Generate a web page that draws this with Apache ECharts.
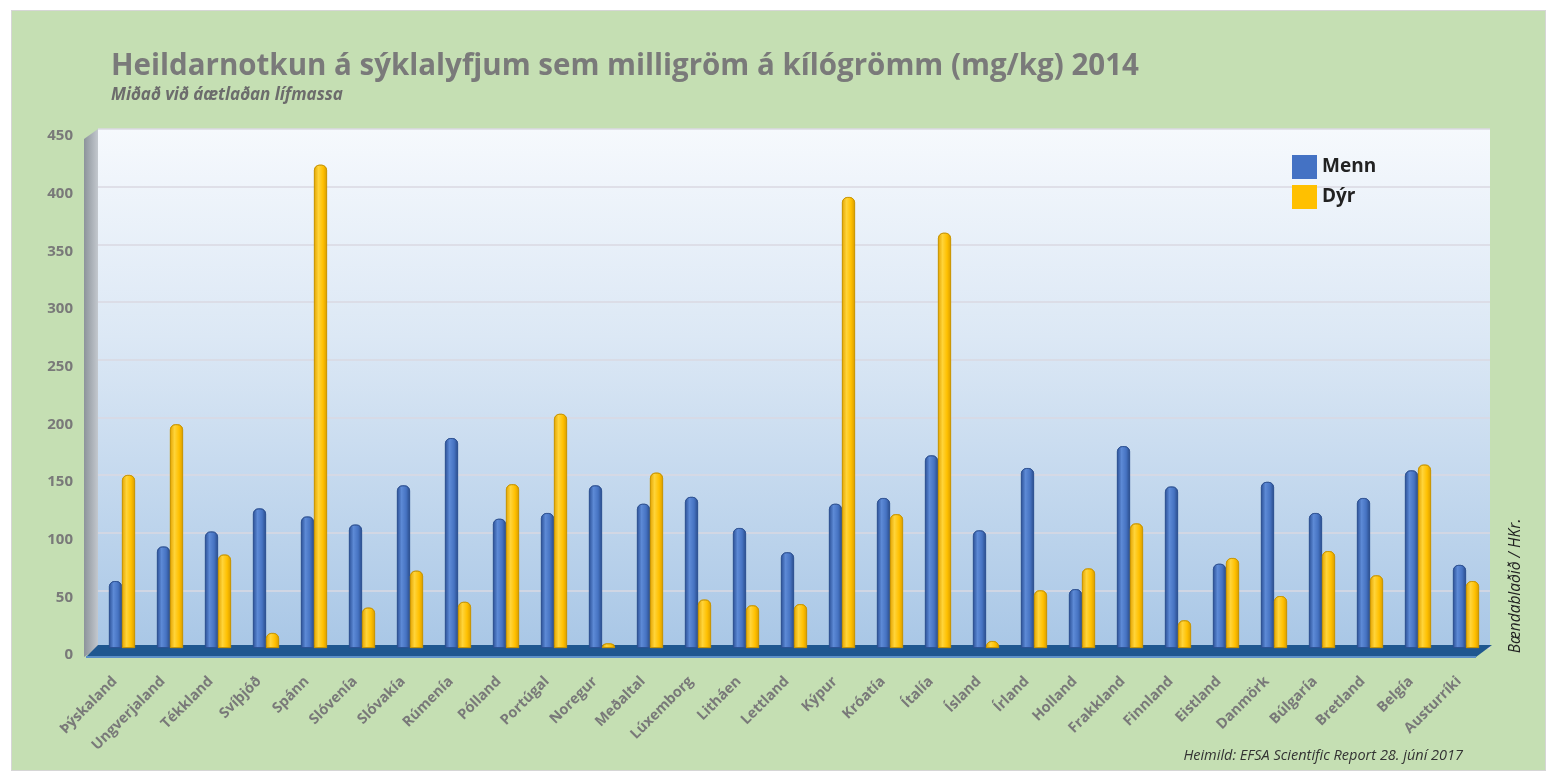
<!DOCTYPE html>
<html>
<head>
<meta charset="utf-8">
<script src="https://cdn.jsdelivr.net/npm/echarts@6/dist/echarts.min.js"></script>
<style>
  html, body { margin: 0; padding: 0; background: #fff; }
  #panel { position: absolute; left: 11px; top: 10px; width: 1533px; height: 759px; background: #c5dfb3; border: 1px solid #d6d6d6; }
  #chart { position: absolute; left: 0; top: 0; width: 1555px; height: 774px; }
</style>
</head>
<body>
<div id="panel"></div>
<div id="chart"></div>
<script>
const countries = ['Þýskaland', 'Ungverjaland', 'Tékkland', 'Svíþjóð', 'Spánn', 'Slóvenía', 'Slóvakía', 'Rúmenía',
  'Pólland', 'Portúgal', 'Noregur', 'Meðaltal', 'Lúxemborg', 'Litháen', 'Lettland', 'Kýpur', 'Króatía', 'Ítalía',
  'Ísland', 'Írland', 'Holland', 'Frakkland', 'Finnland', 'Eistland', 'Danmörk', 'Búlgaría', 'Bretland', 'Belgía', 'Austurríki']
// mg/kg, menn (people)
const menn = [58, 88, 101, 121, 114, 107, 141, 182, 112, 117, 141, 125, 131, 104, 83, 125, 130, 167,
  102, 156, 51, 175, 140, 73, 144, 117, 130, 154, 72]
// mg/kg, dýr (animals)
const dyr = [150, 194, 81, 13, 419, 35, 67, 40, 142, 203, 4, 152, 42, 37, 38, 391, 116, 360,
  6, 50, 69, 108, 24, 78, 45, 84, 63, 159, 58]
const yTicks = [0, 50, 100, 150, 200, 250, 300, 350, 400, 450]

const font = '"Open Sans", Lato, sans-serif'
const grey = '#797979'

const chart = echarts.init(document.getElementById('chart'))

const blueFill = new echarts.graphic.LinearGradient(0, 0, 1, 0, [
  { offset: 0, color: '#2b5096' },
  { offset: 0.35, color: '#5d8ad6' },
  { offset: 0.7, color: '#4673c2' },
  { offset: 1, color: '#2a4c8a' }
])
const yellowFill = new echarts.graphic.LinearGradient(0, 0, 1, 0, [
  { offset: 0, color: '#e3a400' },
  { offset: 0.35, color: '#ffd43a' },
  { offset: 0.7, color: '#ffc000' },
  { offset: 1, color: '#d89c00' }
])

chart.setOption({
  backgroundColor: 'transparent',
  title: {
    text: 'Heildarnotkun á sýklalyfjum sem milligröm á kílógrömm (mg/kg) 2014',
    subtext: 'Miðað við áætlaðan lífmassa',
    left: 106,
    top: 47,
    itemGap: 5,
    textStyle: { fontFamily: font, fontSize: 29.5, fontWeight: 'bold', color: '#7a7a7a' },
    subtextStyle: { fontFamily: font, fontSize: 17, fontWeight: 'bold', fontStyle: 'italic', color: '#6c6c6c' }
  },
  legend: {
    orient: 'vertical',
    left: 1287,
    top: 150,
    itemWidth: 25,
    itemHeight: 24,
    itemGap: 6,
    icon: 'rect',
    textStyle: { fontFamily: font, fontSize: 19, fontWeight: 'bold', color: '#222' },
    data: [
      { name: 'Menn', itemStyle: { color: '#4472c4', borderWidth: 0 } },
      { name: 'Dýr', itemStyle: { color: '#ffc000', borderWidth: 0 } }
    ]
  },
  grid: {
    left: 98,
    right: 65,
    top: 129,
    bottom: 126,
    show: true,
    borderWidth: 0,
    backgroundColor: new echarts.graphic.LinearGradient(0, 0, 0, 1, [
      { offset: 0, color: '#f6f9fd' },
      { offset: 0.4, color: '#dce8f5' },
      { offset: 1, color: '#a9c7e6' }
    ])
  },
  xAxis: {
    type: 'category',
    data: countries,
    axisLine: { show: false },
    axisTick: { show: false },
    axisLabel: {
      rotate: 45,
      margin: 24,
      padding: [0, 10, 0, 0],
      interval: 0,
      fontFamily: font,
      fontSize: 14.5,
      fontWeight: 'bold',
      color: grey
    }
  },
  yAxis: {
    type: 'value',
    min: 0,
    max: 450,
    interval: 50,
    axisLine: { show: false },
    axisTick: { show: false },
    splitLine: { lineStyle: { color: '#dad9e2', width: 1.5 } },
    axisLabel: {
      margin: 25,
      verticalAlign: 'top',
      lineHeight: 14,
      fontFamily: font,
      fontSize: 15,
      fontWeight: 'bold',
      color: grey,
      formatter: v => (yTicks.includes(v) ? String(v) : '')
    }
  },
  graphic: [
    // side wall
    {
      type: 'polygon',
      z: 1,
      shape: { points: [[84, 139], [98, 129], [98, 648], [84, 657]] },
      style: {
        fill: new echarts.graphic.LinearGradient(0, 0, 1, 0, [
          { offset: 0, color: '#8c939b' },
          { offset: 1, color: '#c3c8ce' }
        ])
      }
    },
    // floor
    {
      type: 'polygon',
      z: 1,
      shape: { points: [[86, 657], [1476, 657], [1492, 645], [98, 645]] },
      style: { fill: '#1f5790' }
    },
    {
      type: 'line',
      z: 1,
      shape: { x1: 86, y1: 657, x2: 1476, y2: 657 },
      style: { stroke: '#5b8fc8', lineWidth: 2 }
    },
    {
      type: 'text',
      right: 92,
      top: 748,
      style: {
        text: 'Heimild: EFSA Scientific Report 28. júní 2017',
        font: 'italic 14.5px ' + font,
        fill: '#333'
      }
    },
    {
      type: 'text',
      x: 1516,
      y: 586,
      rotation: Math.PI / 2,
      style: {
        text: 'Bændablaðið / HKr.',
        font: 'italic 15.5px ' + font,
        fill: '#222',
        align: 'center',
        verticalAlign: 'middle'
      }
    }
  ],
  series: [
    {
      name: 'Menn',
      type: 'bar',
      data: menn,
      barWidth: 13,
      barGap: '0%',
      z: 3,
      itemStyle: { color: blueFill, borderColor: '#2d5192', borderWidth: 0.8, borderRadius: [5, 5, 0, 0] }
    },
    {
      name: 'Dýr',
      type: 'bar',
      data: dyr,
      barWidth: 13,
      z: 3,
      itemStyle: { color: yellowFill, borderColor: '#c99500', borderWidth: 0.8, borderRadius: [5, 5, 0, 0] }
    }
  ]
})
</script>
</body>
</html>
